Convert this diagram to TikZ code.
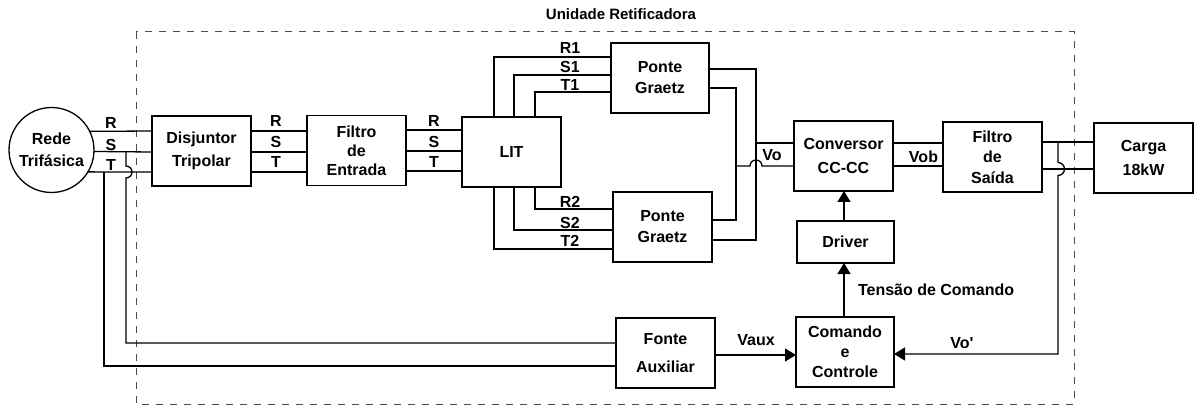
\documentclass[tikz,border=0pt]{standalone}
\usepackage{fontspec}
\setmainfont{Liberation Sans}
\usetikzlibrary{arrows.meta}
\newcommand{\fs}[1]{\bfseries\fontsize{16}{#1}\selectfont}
\begin{document}
\begin{tikzpicture}[x=1pt,y=-1pt,
  every node/.style={font=\fs{21}, inner sep=0pt, outer sep=0pt},
  blk/.style={draw, line width=1.3pt, minimum width=99pt, minimum height=70pt, align=center},
  wire/.style={line width=1.3pt},
  arr/.style={wire, -{Triangle[length=11pt,width=13pt]}},
  frame/.style={draw=black!70, line width=1pt, dash pattern=on 7pt off 7pt},
]
\useasboundingbox (0,0) rectangle (1196,406);

% frame and title
\draw[frame] (136,32) rectangle (1074,404);
\node[font=\bfseries\fontsize{15}{17}\selectfont] (title) at (621,14) {Unidade Retificadora};

% blocks
\node[circle, draw, line width=1.3pt, minimum size=85pt, align=center, font=\fs{22}] (rede) at (51.5,150) {Rede\\Trifásica};
\node[blk, font=\fs{23}] (disj) at (201.5,151) {Disjuntor\\Tripolar};
\node[blk, font=\fs{19}] (filE) at (356.5,150.5) {Filtro\\de\\Entrada};
\node[blk] (lit) at (511.5,152) {LIT};
\node[blk, minimum width=98pt] (pg1) at (660,78) {Ponte\\Graetz};
\node[blk] (pg2) at (662.5,227) {Ponte\\Graetz};
\node[blk, font=\fs{24}] (conv) at (843.5,156) {Conversor\\CC-CC};
\node[blk, font=\fs{20.5}] (filS) at (992.5,157) {Filtro\\de\\Saída};
\node[blk, font=\fs{24}] (carga) at (1143.5,158) {Carga\\18kW};
\node[blk, minimum width=97pt, minimum height=42pt] (drv) at (845.5,242) {Driver};
\node[blk, minimum width=98pt, font=\fs{20}] (cmd) at (845,352) {Comando\\e\\Controle};
\node[blk, font=\fs{28}] (fonte) at (665.5,353) {Fonte\\Auxiliar};

% junction coordinates
\coordinate (sb) at (126,152);
\coordinate (tb) at (104,172);
\coordinate (voA) at (756,143);
\coordinate (voB) at (736,166);
\coordinate (fb) at (1058,142);

% Rede -> Disjuntor
\draw[wire] (rede.26.6) -- (disj.west |- 0,131);
\draw[wire] (rede.-2.7) -- (disj.west |- 0,152);
\draw[wire] (rede.-31.2) -- (disj.west |- 0,172);
\node at (111,123) {R};
\node at (111,145) {S};
\node at (111,165) {T};

% branches to Fonte Auxiliar
\draw[wire] (sb) -- (126,166) arc[start angle=-90,end angle=90,radius=6] -- (126,343) -- (fonte.west |- 0,343);
\draw[wire] (tb) -- (104,366) -- (fonte.west |- 0,366);

% Disjuntor -> Filtro de Entrada
\foreach \y in {131,152,172} \draw[wire] (disj.east |- 0,\y) -- (filE.west |- 0,\y);
\node at (276,121) {R};
\node at (276,142) {S};
\node at (276,162) {T};

% Filtro -> LIT
\foreach \y in {130,151,171} \draw[wire] (filE.east |- 0,\y) -- (lit.west |- 0,\y);
\node at (434,121) {R};
\node at (434,142) {S};
\node at (434,162) {T};

% LIT -> Ponte Graetz
\draw[wire] (lit.north -| 494,0) |- (pg1.west |- 0,57);
\draw[wire] (lit.north -| 514,0) |- (pg1.west |- 0,75);
\draw[wire] (lit.north -| 535,0) |- (pg1.west |- 0,92);
\draw[wire] (lit.south -| 535,0) |- (pg2.west |- 0,209);
\draw[wire] (lit.south -| 514,0) |- (pg2.west |- 0,230);
\draw[wire] (lit.south -| 494,0) |- (pg2.west |- 0,249);
\node at (570,48) {R1};
\node at (570,67) {S1};
\node at (570,85) {T1};
\node at (570,202) {R2};
\node at (570,223) {S2};
\node at (570,241) {T2};

% Ponte outputs
\draw[wire] (pg1.east |- 0,69) -| (756,240) -- (pg2.east |- 0,240);
\draw[wire] (pg1.east |- 0,88) -| (736,220) -- (pg2.east |- 0,220);

% Vo
\draw[wire] (voA) -- (conv.west |- voA);
\draw[wire] (voB) -- (750,166) arc[start angle=180,end angle=360,radius=6] -- (conv.west |- voB);
\node at (772,155) {Vo};

% Vob
\draw[wire] (conv.east |- 0,143) -- (filS.west |- 0,143);
\draw[wire] (conv.east |- 0,166) -- (filS.west |- 0,166);
\node at (923.5,157) {Vob};

% to Carga
\draw[wire] (filS.east |- 0,142) -- (carga.west |- 0,142);
\draw[wire] (filS.east |- 0,169) -- (carga.west |- 0,169);

% feedback Vo'
\draw[arr] (fb) -- (1058,162.5) arc[start angle=-90,end angle=90,radius=6.5] -- (1058,354) -- (cmd.east |- 0,354);
\node at (962,343) {Vo\textquotesingle};

% control arrows
\draw[arr] (drv.north -| 844,0) -- (conv.south -| 844,0);
\draw[arr] (cmd.north -| 844,0) -- (drv.south -| 844,0);
\node[anchor=west] at (858,290) {Tensão de Comando};
\draw[arr] (fonte.east |- 0,355) -- (cmd.west |- 0,355);
\node at (756,340) {Vaux};
\end{tikzpicture}
\end{document}
